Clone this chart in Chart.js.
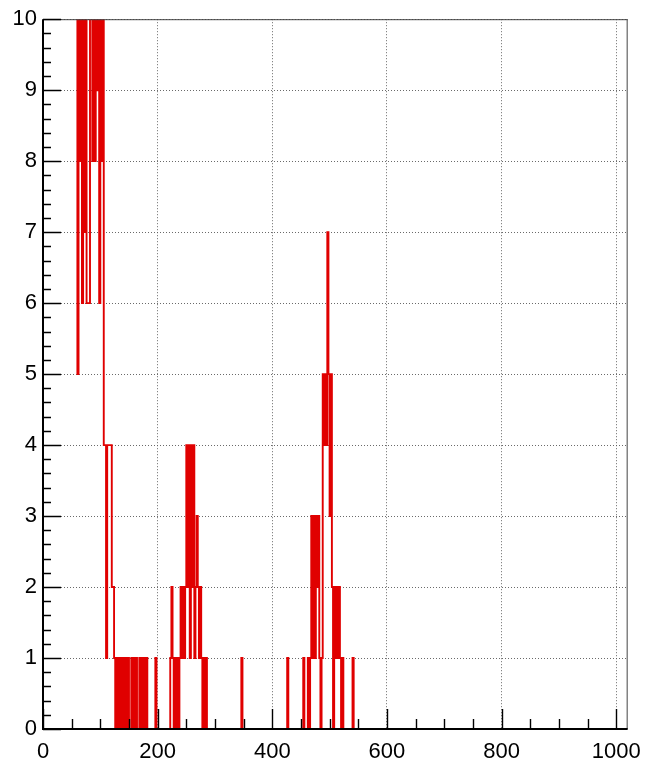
<!DOCTYPE html>
<html>
<head>
<meta charset="utf-8">
<script src="https://cdn.jsdelivr.net/npm/chart.js@4/dist/chart.umd.min.js"></script>
<style>
html,body{margin:0;padding:0;background:#ffffff;}
#wrap{width:651px;height:764px;}
</style>
</head>
<body>
<div id="wrap"><canvas id="c" width="651" height="764"></canvas></div>
<script>
// histogram bins (left edge of each non-empty bin) and their counts; bin width in x units
const binWidth = 2;
const binLeft = [
  58,60,62,64,66,68,70,72,74,76,78,80,82,84,86,88,90,92,94,96,98,100,102,104,
  106,108,110,112,114,116,118,120,122,
  124,128,132,136,140,144,148,154,158,162,168,172,176,180,196,
  222,224,226,230,234,238,240,242,244,246,248,250,252,254,256,258,260,262,264,266,268,270,272,274,276,280,284,
  346,426,454,
  462,466,468,470,472,474,476,478,480,482,486,488,490,492,494,496,498,500,502,504,508,510,512,514,516,518,522,
  540
];
const binCount = [
  12,5,12,8,12,6,11,7,12,6,6,6,12,12,8,12,8,12,9,12,6,12,8,11,
  4,4,1,4,4,4,4,2,2,
  1,1,1,1,1,1,1,1,1,1,1,1,1,1,1,
  1,2,1,1,1,1,2,1,2,1,2,4,2,4,1,4,2,4,1,2,3,2,1,2,1,1,1,
  1,1,1,
  1,1,3,1,3,1,3,2,3,1,1,5,4,5,4,7,5,3,5,2,2,1,2,1,2,1,1,
  1
];
const xTickValues = [0,200,400,600,800,1000];
const yTickValues = [0,1,2,3,4,5,6,7,8,9,10];
const xMin = 0, xMax = 1020, yMin = 0, yMax = 10;

// build stepped outline points (empty bins between listed ones are zero)
const points = [];
for (let i = 0; i < binLeft.length; i++) {
  if (i > 0) {
    const prevEnd = binLeft[i-1] + binWidth;
    if (prevEnd < binLeft[i]) points.push({x: prevEnd, y: 0});
  }
  points.push({x: binLeft[i], y: binCount[i]});
}
points.push({x: binLeft[binLeft.length-1] + binWidth, y: 0});

const FONT = "'Liberation Sans', Arial, Helvetica, sans-serif";

const frameAndTicks = {
  id: 'frameAndTicks',
  afterDatasetsDraw(chart) {
    const {ctx, chartArea: {left, right, top, bottom}, scales: {x, y}} = chart;
    ctx.save();
    ctx.strokeStyle = '#444';
    ctx.lineWidth = 1;
    ctx.beginPath();
    ctx.moveTo(left, top + 0.5); ctx.lineTo(right, top + 0.5);
    ctx.moveTo(right - 0.5, top); ctx.lineTo(right - 0.5, bottom);
    ctx.stroke();
    ctx.strokeStyle = '#000';
    ctx.lineWidth = 1.4;
    ctx.beginPath();
    for (let k = 0; k <= 50; k++) {
      const v = k * 0.2;
      const py = Math.round(y.getPixelForValue(v)) + 0.5;
      const len = (k % 5 === 0) ? 18 : 8;
      ctx.moveTo(left, py); ctx.lineTo(left + len, py);
    }
    for (let k = 0; k <= 20; k++) {
      const v = k * 50;
      const px = Math.round(x.getPixelForValue(v)) + 0.5;
      const len = (k % 4 === 0) ? 20 : 10;
      ctx.moveTo(px, bottom); ctx.lineTo(px, bottom - len);
    }
    ctx.stroke();
    ctx.lineWidth = 2;
    ctx.beginPath();
    ctx.moveTo(left, top); ctx.lineTo(left, bottom + 1);
    ctx.moveTo(left - 1, bottom); ctx.lineTo(right, bottom);
    ctx.stroke();
    ctx.restore();
  }
};

new Chart(document.getElementById('c'), {
  type: 'line',
  data: {
    datasets: [{
      data: points,
      stepped: 'before',
      borderColor: 'rgb(224,0,0)',
      borderWidth: 1.9,
      pointRadius: 0,
      fill: false,
      tension: 0
    }]
  },
  options: {
    responsive: false,
    animation: false,
    devicePixelRatio: 1,
    layout: {padding: {top: 16, right: 17, left: 0, bottom: 0}},
    plugins: {legend: {display: false}, tooltip: {enabled: false}},
    scales: {
      x: {
        type: 'linear',
        min: xMin, max: xMax,
        afterFit(s) { s.height = 35; },
        afterBuildTicks(s) { s.ticks = xTickValues.map(v => ({value: v})); },
        ticks: {
          stepSize: 200, includeBounds: false, autoSkip: false, maxRotation: 0,
          padding: 10, color: '#000',
          font: {family: FONT, size: 22},
          callback: v => String(v)
        },
        grid: {color: 'rgba(90,90,90,0.9)', lineWidth: 1, drawTicks: false},
        border: {display: false, dash: [1, 2]}
      },
      y: {
        type: 'linear',
        min: yMin, max: yMax,
        afterFit(s) { s.width = 43; },
        afterBuildTicks(s) { s.ticks = yTickValues.map(v => ({value: v})); },
        ticks: {
          stepSize: 1, autoSkip: false, padding: 6, color: '#000',
          font: {family: FONT, size: 22},
          callback: v => String(v)
        },
        grid: {color: 'rgba(90,90,90,0.9)', lineWidth: 1, drawTicks: false},
        border: {display: false, dash: [1, 2]}
      }
    }
  },
  plugins: [frameAndTicks]
});
</script>
</body>
</html>
